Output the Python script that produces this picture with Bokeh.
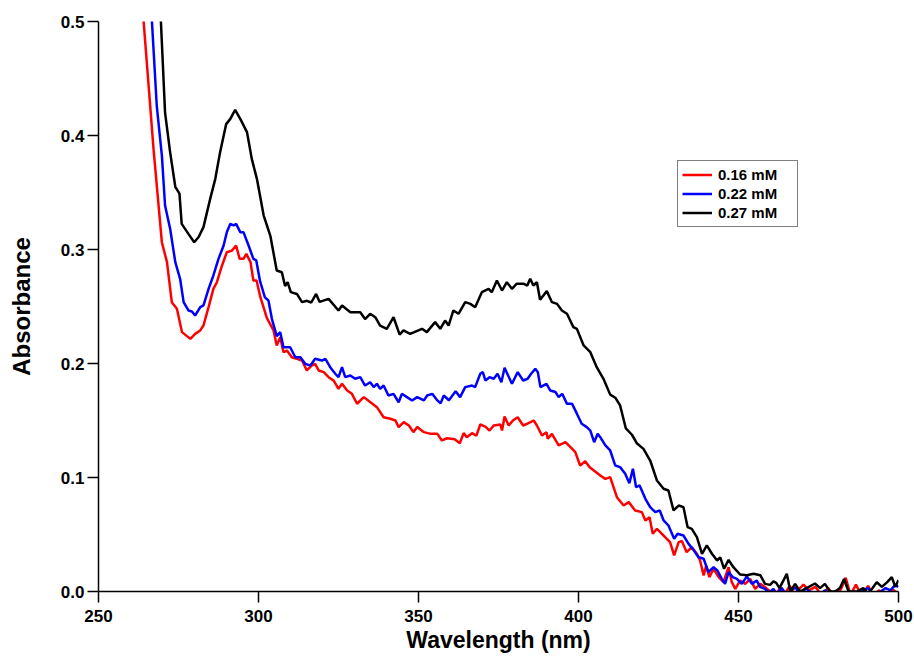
from bokeh.plotting import figure
from bokeh.models import FixedTicker, Range1d
from bokeh.embed import file_html
from bokeh.resources import INLINE

# ---------------- data (wavelength nm, absorbance) ----------------
series_names = ["0.16 mM", "0.22 mM", "0.27 mM"]
series_colors = ["#ff0000", "#0000ff", "#000000"]

red_pts = [
    (263.0, 0.54), (264.1, 0.50), (267.2, 0.388), (269.8, 0.3064), (271.4, 0.2889),
    (272.9, 0.2538), (274.5, 0.248), (276.1, 0.2275), (278.7, 0.2216), (280.2, 0.226),
    (281.8, 0.229), (282.8, 0.2333), (284.4, 0.2494), (285.9, 0.2655), (287.0, 0.2713),
    (288.6, 0.286), (290.1, 0.2976), (291.7, 0.299), (293.0, 0.3035), (294.1, 0.2918),
    (295.3, 0.2918), (296.2, 0.2962), (297.5, 0.2889), (298.4, 0.2728), (299.4, 0.2728),
    (300.5, 0.2590), (302.6, 0.2400), (304.7, 0.229), (305.7, 0.2158), (306.8, 0.2231),
    (307.8, 0.2099), (308.9, 0.2114), (310.4, 0.2055), (312.0, 0.2041), (313.6, 0.2026),
    (315.1, 0.1939), (316.7, 0.1983), (317.7, 0.1997), (318.8, 0.1939), (320.4, 0.1924),
    (321.9, 0.188), (323.5, 0.185), (325.0, 0.1778), (326.1, 0.1822), (327.7, 0.1764),
    (329.2, 0.1734), (330.8, 0.1647), (332.9, 0.1705), (335.0, 0.166), (337.0, 0.1617),
    (339.1, 0.1529), (341.2, 0.1515), (342.8, 0.150), (343.8, 0.1442), (345.4, 0.1486),
    (347.0, 0.1456), (348.4, 0.1398), (349.6, 0.1442), (351.7, 0.1398), (353.8, 0.1383),
    (355.9, 0.1383), (357.3, 0.1325), (359.0, 0.1344), (361.3, 0.1335), (362.9, 0.1301),
    (364.1, 0.1389), (365.1, 0.1354), (366.7, 0.1389), (368.1, 0.1368), (369.3, 0.1465),
    (370.9, 0.1447), (372.2, 0.1412), (373.5, 0.1456), (375.6, 0.1465), (376.1, 0.1412),
    (376.9, 0.1535), (378.2, 0.1456), (379.5, 0.150), (381.0, 0.1529), (382.7, 0.1456),
    (384.4, 0.1477), (386.0, 0.150), (387.0, 0.1456), (388.6, 0.1368), (390.0, 0.1398),
    (390.4, 0.134), (391.7, 0.1383), (393.8, 0.1281), (395.9, 0.131), (397.5, 0.1266),
    (399.0, 0.1222), (400.5, 0.1105), (402.1, 0.1143), (403.5, 0.109), (406.8, 0.1018),
    (408.4, 0.0988), (409.9, 0.1003), (412.0, 0.0827), (414.1, 0.0754), (415.7, 0.0784),
    (417.7, 0.0711), (419.8, 0.0696), (420.9, 0.0623), (422.2, 0.0652), (423.2, 0.0506),
    (424.5, 0.055), (426.6, 0.0491), (428.6, 0.0433), (429.9, 0.0316), (431.3, 0.0433),
    (432.3, 0.0443), (433.8, 0.0345), (435.4, 0.0389), (437.0, 0.0331), (438.0, 0.0272),
    (439.1, 0.014), (439.9, 0.0228), (440.9, 0.0126), (442.2, 0.0199), (443.8, 0.0126),
    (445.3, 0.0082), (446.9, 0.0213), (447.9, 0.0082), (449.0, 0.0023), (450.5, 0.0096),
    (452.1, 0.0067), (453.7, 0.011), (455.2, 0.0023), (456.8, 0.0067), (458.3, 0.0038),
    (459.9, 0.0), (461.5, -0.003), (463.1, 0.003), (464.5, -0.002), (466.0, 0.005),
    (467.5, -0.002), (470.3, 0.006), (472.0, 0.001), (474.0, 0.004), (476.0, -0.003),
    (478.0, 0.003), (480.0, -0.004), (482.0, 0.002), (483.5, 0.012), (485.0, -0.003),
    (486.7, 0.006), (488.5, -0.004), (490.5, 0.005), (492.0, -0.003), (494.0, 0.001),
    (496.0, -0.004), (498.0, 0.002), (500.0, -0.002),
]

blue_pts = [
    (265.5, 0.56), (266.7, 0.50), (268.2, 0.4263), (269.8, 0.3825), (270.8, 0.3386),
    (272.4, 0.318), (274.0, 0.2889), (275.5, 0.2743), (276.6, 0.2538), (278.1, 0.2465),
    (279.2, 0.2456), (280.2, 0.2421), (281.8, 0.2494), (282.8, 0.2509), (284.4, 0.2655),
    (285.9, 0.2772), (287.5, 0.2918), (289.1, 0.3035), (290.1, 0.3152), (291.2, 0.3225),
    (292.2, 0.3211), (293.0, 0.3225), (294.3, 0.3152), (295.3, 0.3152), (296.9, 0.3035),
    (298.4, 0.2918), (299.3, 0.2904), (300.5, 0.2720), (302.0, 0.258), (303.1, 0.2553),
    (304.2, 0.2390), (305.7, 0.2240), (306.8, 0.2275), (307.8, 0.2143), (309.9, 0.2143),
    (311.5, 0.2055), (313.1, 0.2055), (314.6, 0.1997), (316.2, 0.1983), (317.7, 0.2041),
    (319.8, 0.2026), (320.9, 0.2041), (322.4, 0.1968), (324.0, 0.191), (325.0, 0.188),
    (326.1, 0.1968), (327.1, 0.188), (328.7, 0.1895), (330.2, 0.1866), (331.8, 0.188),
    (333.3, 0.1807), (334.9, 0.1836), (336.0, 0.1793), (337.0, 0.1822), (338.0, 0.1778),
    (339.1, 0.1807), (340.6, 0.1719), (342.2, 0.1734), (343.8, 0.166), (344.8, 0.1734),
    (346.4, 0.1705), (348.0, 0.1676), (349.6, 0.1705), (351.7, 0.1676), (352.7, 0.1719),
    (354.3, 0.1734), (355.9, 0.1676), (356.9, 0.1650), (357.9, 0.1719), (359.5, 0.1678),
    (361.6, 0.1756), (363.0, 0.1705), (364.6, 0.1793), (366.7, 0.1807), (367.7, 0.1793),
    (369.3, 0.191), (370.1, 0.1924), (370.9, 0.1851), (372.2, 0.188), (373.5, 0.1866),
    (374.7, 0.191), (375.9, 0.1836), (376.9, 0.1962), (378.0, 0.1895), (379.2, 0.1822),
    (381.0, 0.1924), (382.7, 0.1851), (384.1, 0.1866), (385.2, 0.191), (386.5, 0.1953),
    (387.3, 0.1924), (388.1, 0.1793), (390.0, 0.1822), (391.2, 0.1763), (392.8, 0.175),
    (393.8, 0.1705), (394.9, 0.1734), (396.4, 0.1646), (398.0, 0.1646), (399.5, 0.156),
    (401.0, 0.1471), (402.6, 0.1442), (403.7, 0.1412), (404.9, 0.131), (406.0, 0.1383),
    (406.8, 0.1354), (408.4, 0.1281), (409.9, 0.1237), (411.5, 0.1105), (413.0, 0.1091),
    (414.6, 0.1032), (415.9, 0.0950), (417.0, 0.1076), (418.0, 0.0915), (419.1, 0.093),
    (420.9, 0.0813), (422.4, 0.0740), (424.0, 0.0696), (425.4, 0.0711), (426.6, 0.0623),
    (428.1, 0.0579), (429.9, 0.0462), (430.9, 0.0506), (432.8, 0.0491), (434.4, 0.0418),
    (435.7, 0.0374), (437.5, 0.0301), (439.1, 0.0287), (440.6, 0.0170), (442.2, 0.0213),
    (443.4, 0.0184), (444.8, 0.0111), (445.8, 0.0067), (446.9, 0.017), (448.2, 0.0126),
    (449.5, 0.0111), (451.0, 0.0067), (452.6, 0.0132), (454.2, 0.0067), (455.7, 0.0096),
    (456.8, 0.0038), (458.3, 0.0023), (459.4, -0.001), (460.9, 0.0023), (462.0, -0.002),
    (463.5, 0.003), (465.0, -0.003), (466.5, 0.002), (468.0, 0.003), (469.5, -0.003),
    (471.0, 0.003), (473.0, -0.002), (475.0, -0.004), (477.0, 0.001), (479.0, -0.003),
    (481.0, -0.002), (483.0, -0.004), (485.0, -0.002), (487.0, -0.004), (489.0, 0.001),
    (490.5, 0.003), (492.0, -0.003), (494.0, -0.001), (496.0, 0.003), (497.5, 0.001),
    (499.0, 0.006), (500.0, 0.004),
]

black_pts = [
    (268.0, 0.60), (269.5, 0.50), (270.8, 0.420), (272.4, 0.385), (274.0, 0.355),
    (275.3, 0.349), (276.0, 0.3225), (278.1, 0.3137), (279.9, 0.3064), (281.3, 0.311),
    (282.8, 0.3196), (284.9, 0.3444), (286.5, 0.362), (288.0, 0.3854), (289.9, 0.410),
    (291.2, 0.4146), (292.7, 0.4225), (294.3, 0.4146), (296.4, 0.403), (297.9, 0.3795),
    (299.5, 0.362), (301.6, 0.330), (303.7, 0.312), (305.7, 0.2816), (307.3, 0.280),
    (308.3, 0.268), (309.1, 0.2713), (310.1, 0.2626), (312.0, 0.261), (313.6, 0.2538),
    (315.1, 0.255), (316.5, 0.2535), (318.0, 0.261), (319.1, 0.254), (321.9, 0.2567),
    (325.0, 0.2465), (326.1, 0.2509), (328.7, 0.245), (331.8, 0.245), (333.3, 0.239),
    (334.9, 0.2436), (336.5, 0.2406), (338.0, 0.2333), (340.1, 0.2304), (342.2, 0.2406),
    (344.1, 0.2254), (345.3, 0.229), (347.4, 0.226), (351.1, 0.2304), (352.6, 0.2275),
    (355.2, 0.2363), (356.8, 0.2304), (358.3, 0.2377), (359.4, 0.2333), (360.9, 0.2465),
    (362.5, 0.2436), (364.6, 0.2538), (366.2, 0.2523), (367.7, 0.2494), (369.8, 0.2626),
    (371.9, 0.2655), (372.9, 0.2626), (374.5, 0.2728), (376.1, 0.264), (377.6, 0.2713),
    (379.2, 0.2655), (380.7, 0.270), (382.8, 0.270), (384.0, 0.2684), (384.9, 0.2743),
    (385.9, 0.2684), (387.0, 0.2713), (388.0, 0.2559), (390.1, 0.2635), (391.7, 0.2538),
    (393.3, 0.2523), (394.8, 0.2465), (396.4, 0.2436), (398.4, 0.2319), (399.5, 0.2304),
    (401.6, 0.2158), (403.7, 0.2099), (405.7, 0.1968), (407.8, 0.1866), (409.9, 0.1727),
    (411.5, 0.170), (413.0, 0.1632), (414.8, 0.1430), (416.7, 0.1375), (418.3, 0.1298),
    (420.3, 0.1251), (422.4, 0.1149), (424.5, 0.0974), (426.6, 0.0901), (428.1, 0.0886),
    (429.7, 0.0711), (431.3, 0.0754), (432.8, 0.0740), (434.1, 0.0564), (435.4, 0.055),
    (437.0, 0.0477), (438.6, 0.0331), (440.1, 0.0404), (441.7, 0.0331), (443.3, 0.0272),
    (444.3, 0.030), (445.5, 0.0199), (446.9, 0.0278), (448.4, 0.0213), (450.5, 0.0149),
    (452.6, 0.0143), (454.7, 0.0155), (456.8, 0.0143), (458.3, 0.0067), (459.9, 0.0058),
    (460.9, 0.0088), (461.8, 0.0075), (462.8, 0.003), (465.1, 0.0155), (466.2, 0.0),
    (467.7, 0.0067), (469.2, 0.0), (471.3, 0.003), (473.9, 0.007), (475.5, 0.003),
    (477.0, 0.0067), (478.6, 0.0), (480.2, 0.0), (481.7, 0.003), (483.0, 0.011),
    (484.4, 0.0), (487.0, 0.0), (489.0, 0.003), (490.6, -0.002), (493.2, 0.0082),
    (494.8, 0.004), (496.4, 0.008), (497.9, 0.0126), (499.0, 0.004), (500.0, 0.010),
]

x_ticks = [250, 300, 350, 400, 450, 500]
y_ticks = [0.0, 0.1, 0.2, 0.3, 0.4, 0.5]
y_tick_labels = ["0.0", "0.1", "0.2", "0.3", "0.4", "0.5"]
x_title = "Wavelength (nm)"
y_title = "Absorbance"

FONT = "Liberation Sans"

# ---------------- figure ----------------
p = figure(width=914, height=659, output_backend="svg", toolbar_location=None,
           x_range=Range1d(250, 500), y_range=Range1d(0, 0.5),
           min_border_left=98, min_border_right=16, min_border_top=21,
           min_border_bottom=68)
p.grid.visible = False
p.outline_line_color = None
p.background_fill_color = "white"
p.border_fill_color = "white"

for pts, name, col in zip([red_pts, blue_pts, black_pts], series_names, series_colors):
    xs = [a for a, b in pts]
    ys = [b for a, b in pts]
    p.line(xs, ys, line_color=col, line_width=2.5, legend_label=name)

for ax in (p.xaxis[0], p.yaxis[0]):
    ax.axis_line_width = 1.5
    ax.axis_line_color = "black"
    ax.major_tick_out = 11
    ax.major_tick_in = 0
    ax.major_tick_line_width = 1.5
    ax.minor_tick_out = 0
    ax.minor_tick_in = 0
    ax.major_label_text_font = FONT
    ax.major_label_text_font_style = "bold"
    ax.major_label_text_font_size = "17px"
    ax.major_label_text_color = "black"
    ax.axis_label_text_font = FONT
    ax.axis_label_text_font_style = "bold"
    ax.axis_label_text_color = "black"

p.xaxis[0].ticker = FixedTicker(ticks=x_ticks)
p.xaxis[0].major_label_standoff = 7
p.xaxis[0].axis_label = x_title
p.xaxis[0].axis_label_text_font_size = "23px"
p.xaxis[0].axis_label_standoff = 2

p.yaxis[0].ticker = FixedTicker(ticks=y_ticks)
p.yaxis[0].major_label_overrides = {t: l for t, l in zip(y_ticks, y_tick_labels)}
p.yaxis[0].major_label_standoff = 3
p.yaxis[0].axis_label = y_title
p.yaxis[0].axis_label_text_font_size = "24px"
p.yaxis[0].axis_label_standoff = 23

lg = p.legend[0]
lg.location = (579, 364)
lg.border_line_color = "black"
lg.border_line_width = 1
lg.background_fill_color = "white"
lg.background_fill_alpha = 1
lg.padding = 4
lg.spacing = 0
lg.margin = 0
lg.glyph_width = 30
lg.glyph_height = 19
lg.label_height = 19
lg.label_standoff = 6
lg.label_width = 75
lg.label_text_font = FONT
lg.label_text_font_style = "bold"
lg.label_text_font_size = "15px"
lg.label_text_color = "black"

open("out.html", "w").write(file_html(p, INLINE))
